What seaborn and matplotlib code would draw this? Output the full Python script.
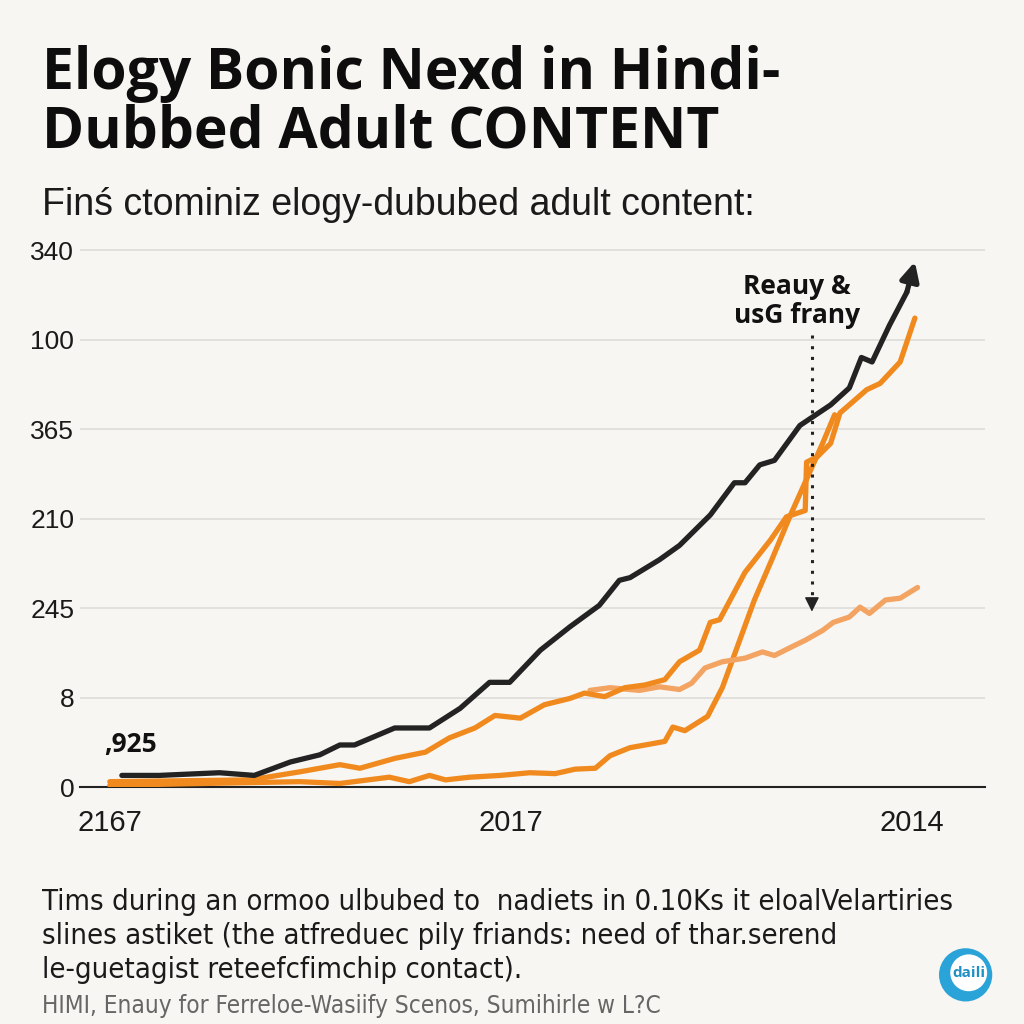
import matplotlib
matplotlib.use("Agg")
import matplotlib.pyplot as plt
import matplotlib.patches as mpatches
import seaborn as sns

# ---------------- data ----------------
black_x = [0.9, 3.7, 8.2, 10.8, 13.5, 15.7, 17.2, 18.3, 21.3, 23.9, 26.2, 28.4, 29.9, 32.2, 34.4,
           36.6, 38.1, 38.9, 41.1, 42.6, 44.9, 46.7, 47.5, 48.6, 49.7, 51.6, 53.9, 55.3, 56.2, 57.0,
           58.3, 59.6]
black_y = [0.13, 0.13, 0.16, 0.13, 0.28, 0.36, 0.47, 0.47, 0.66, 0.66, 0.88, 1.17, 1.17, 1.53, 1.79,
           2.03, 2.31, 2.34, 2.54, 2.70, 3.04, 3.40, 3.40, 3.60, 3.65, 4.04, 4.27, 4.46, 4.80, 4.75,
           5.16, 5.53]
black_end = (60.2, 5.87)

orange_a_x = [0.0, 10.5, 14.2, 17.2, 18.7, 21.3, 23.6, 25.4, 27.3, 28.8, 30.7, 32.5, 34.4, 35.5, 37.0,
              38.5, 40.0, 41.5, 42.6, 44.1, 44.9, 45.6, 47.5, 49.4, 50.6, 52.0, 52.1, 52.9, 53.9, 54.6,
              56.6, 57.6, 59.1, 60.2]
orange_a_y = [0.06, 0.08, 0.17, 0.25, 0.21, 0.32, 0.39, 0.55, 0.66, 0.80, 0.77, 0.92, 0.99, 1.05, 1.01,
              1.11, 1.14, 1.20, 1.40, 1.53, 1.84, 1.87, 2.40, 2.76, 3.02, 3.09, 3.63, 3.69, 3.84, 4.18,
              4.44, 4.51, 4.75, 5.24]

orange_b_x = [0.0, 14.2, 17.2, 20.9, 22.4, 23.9, 25.1, 26.9, 29.2, 31.4, 33.3, 34.8, 36.3, 37.4, 38.9,
              40.4, 41.5, 42.1, 43.0, 44.7, 45.8, 47.1, 48.2, 49.5, 50.9, 52.4, 53.3, 54.2]
orange_b_y = [0.02, 0.06, 0.04, 0.11, 0.06, 0.13, 0.08, 0.11, 0.13, 0.16, 0.15, 0.20, 0.21, 0.35, 0.44,
              0.48, 0.51, 0.67, 0.63, 0.79, 1.11, 1.64, 2.09, 2.54, 3.04, 3.54, 3.84, 4.16]

orange_c_x = [35.9, 37.4, 39.6, 41.1, 42.6, 43.5, 44.5, 45.8, 47.5, 48.8, 49.7, 50.9, 52.0, 53.3, 54.1,
              55.3, 56.1, 56.8, 58.0, 59.1, 60.4]
orange_c_y = [1.08, 1.11, 1.08, 1.12, 1.09, 1.16, 1.33, 1.40, 1.44, 1.51, 1.47, 1.56, 1.64, 1.75, 1.84,
              1.90, 2.01, 1.94, 2.09, 2.11, 2.23]

y_tick_pos = [0, 1, 2, 3, 4, 5, 6]
y_tick_labels = ["0", "8", "245", "210", "365", "100", "340"]
x_tick_pos = [0, 30, 60]
x_tick_labels = ["2167", "2017", "2014"]

title = "Elogy Bonic Nexd in Hindi-\nDubbed Adult CONTENT"
subtitle = "Finś ctominiz elogy-dububed adult content:"
footer_lines = ["Tims during an ormoo ulbubed to  nadiets in 0.10Ks it eloalVelartiries",
                "slines astiket (the atfreduec pily friands: need of thar.serend",
                "le-guetagist reteefcfimchip contact)."]
source = "HIMI, Enauy for Ferreloe-Wasiify Scenos, Sumihirle w L?C"
annot = "Reauy &\nusG frany"
start_label = ",925"
logo_text = "daili"

# ---------------- style ----------------
BG = "#f7f6f3"
BLACK = "#232323"
ORANGE = "#f08a1e"
ORANGE_LIGHT = "#f3a462"

sns.set_theme(style="white")
plt.rcParams["font.family"] = ["Open Sans", "DejaVu Sans"]

fig = plt.figure(figsize=(10.24, 10.24), dpi=100, facecolor=BG)
ax = fig.add_axes([0.078, 0.2314, 0.884, 0.5506])
ax.set_facecolor(BG)

lw = 3.8
sns.lineplot(x=orange_b_x, y=orange_b_y, ax=ax, color=ORANGE, lw=lw, sort=False, zorder=3)
sns.lineplot(x=orange_c_x, y=orange_c_y, ax=ax, color=ORANGE_LIGHT, lw=lw, sort=False, zorder=3)
sns.lineplot(x=orange_a_x, y=orange_a_y, ax=ax, color=ORANGE, lw=lw, sort=False, zorder=4)
sns.lineplot(x=black_x, y=black_y, ax=ax, color=BLACK, lw=lw, sort=False, zorder=5)
ax.annotate("", xy=black_end, xytext=(black_x[-1], black_y[-1]),
            arrowprops=dict(arrowstyle="-|>", color=BLACK, lw=lw, mutation_scale=28,
                            shrinkA=0, shrinkB=0), zorder=6)

ax.set_xlim(-2.24, 65.45)
ax.set_ylim(0, 6.3)
ax.set_yticks(y_tick_pos)
ax.set_yticklabels(y_tick_labels, fontsize=19, color="#1a1a1a",
                   family=["Liberation Sans", "DejaVu Sans"])
ax.set_xticks(x_tick_pos)
ax.set_xticklabels(x_tick_labels, fontsize=21, color="#1a1a1a",
                   family=["Liberation Sans", "DejaVu Sans"])
ax.tick_params(axis="y", length=0, pad=4)
ax.tick_params(axis="x", length=13, width=1.3, color="#222222", pad=3, direction="out")
ax.yaxis.grid(True, color="#dedcd8", lw=1.2)
ax.xaxis.grid(False)
for s in ["left", "right", "top"]:
    ax.spines[s].set_visible(False)
ax.spines["bottom"].set_color("#222222")
ax.spines["bottom"].set_linewidth(1.5)
ax.set_xlabel("")
ax.set_ylabel("")

# dotted arrow annotation
ax.plot([52.5, 52.5], [5.05, 2.0], ls=(0, (1, 2.5)), color=BLACK, lw=2.2, zorder=7)
ax.annotate("", xy=(52.5, 1.96), xytext=(52.5, 2.1),
            arrowprops=dict(arrowstyle="-|>", color=BLACK, lw=1, mutation_scale=22,
                            shrinkA=0, shrinkB=0), zorder=7)
ax.text(51.4, 5.43, annot, ha="center", va="center", fontsize=19, fontweight="bold",
        color="#111111", linespacing=1.1, zorder=8)
ax.text(-0.4, 0.47, start_label, ha="left", va="center", fontsize=19, fontweight="bold",
        color="#111111")

# titles
fig.text(0.041, 0.899, title, ha="left", va="center", fontsize=41, fontweight="bold",
         color="#0d0d0d", linespacing=1.0)
fig.text(0.041, 0.8, subtitle, ha="left", va="center", fontsize=27, color="#1a1a1a",
         family=["Liberation Sans", "DejaVu Sans"])

# footer
for i, line in enumerate(footer_lines):
    fig.text(0.041, 0.119 - i * 0.0333, line, ha="left", va="center", fontsize=21,
             color="#1a1a1a", family=["DejaVu Sans"], stretch="condensed")
fig.text(0.041, 0.006, source, ha="left", va="bottom", fontsize=17.5, color="#666666",
         family=["DejaVu Sans"], stretch="condensed")

# logo
logo = mpatches.Circle((0.943, 0.048), 0.026, transform=fig.transFigure, facecolor="#2aa3d8",
                       edgecolor="none")
fig.patches.append(logo)
inner = mpatches.Circle((0.946, 0.050), 0.018, transform=fig.transFigure, facecolor="white",
                        edgecolor="none")
fig.patches.append(inner)
fig.text(0.946, 0.05, logo_text, ha="center", va="center", fontsize=11, fontweight="bold",
         color="#1f8fc4")

fig.savefig("out.png", dpi=100, facecolor=BG)
